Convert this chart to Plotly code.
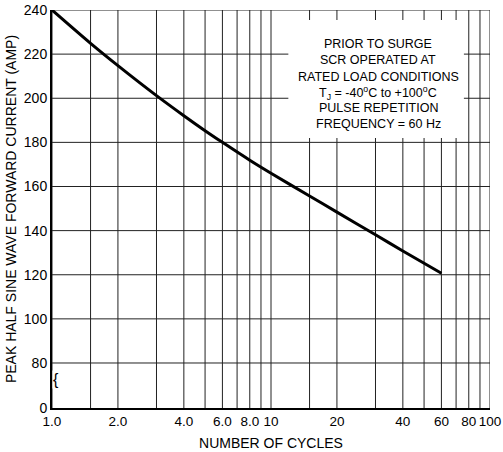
import plotly.graph_objects as go

cycles = [1, 1.5, 2, 3, 4, 5, 6, 8, 10, 15, 20, 30, 40, 60]
current = [240, 224.9, 214.8, 201.2, 192.1, 185.3, 180.0, 171.9, 166.0, 155.7, 148.4, 138.1, 130.8, 120.7]

y_tickvals = [59.6, 80, 100, 120, 140, 160, 180, 200, 220, 240]
y_ticktext = ["0", "80", "100", "120", "140", "160", "180", "200", "220", "240"]
x_gridvals = [1, 1.5, 2, 3, 4, 5, 6, 7, 8, 9, 10, 15, 20, 30, 40, 50, 60, 70, 80, 90, 100]
x_tickvals = [1, 2, 4, 6, 8, 10, 20, 40, 60, 80, 100]
x_ticktext = ["1.0", "2.0", "4.0", "6.0", "8.0", "10", "20", "40", "60", "80", "100"]

note_lines = ["PRIOR TO SURGE", "SCR OPERATED AT", "RATED LOAD CONDITIONS",
              "T<sub>J</sub> = -40<sup>o</sup>C to +100<sup>o</sup>C",
              "PULSE REPETITION", "FREQUENCY = 60 Hz"]
note_y = [224.8, 217.3, 209.8, 202.5, 195.4, 188.2]

FONT = "Liberation Sans, Arial, sans-serif"

fig = go.Figure()

# grid lines
for v in x_gridvals:
    fig.add_shape(type="line", xref="x", yref="paper", x0=v, x1=v, y0=0, y1=1,
                  line=dict(color="#222", width=1), layer="below")
for v in y_tickvals[1:]:
    fig.add_shape(type="line", xref="paper", yref="y", x0=0, x1=1, y0=v, y1=v,
                  line=dict(color="#222", width=1), layer="below")

fig.add_trace(go.Scatter(x=cycles, y=current, mode="lines",
                         line=dict(color="black", width=3, shape="spline", smoothing=0.8),
                         showlegend=False, hoverinfo="skip"))

# white box behind the note
fig.add_shape(type="rect", xref="x", yref="y", x0=12.0, x1=76, y0=182, y1=235.5,
              fillcolor="white", line=dict(width=0), layer="above")

for txt, yv in zip(note_lines, note_y):
    fig.add_annotation(xref="x", yref="y", x=1.4886, y=yv, showarrow=False,
                       text=txt, align="center",
                       font=dict(family=FONT, size=12.5, color="black"))

# axis break mark
fig.add_annotation(xref="paper", yref="y", x=0, y=72.3, showarrow=False,
                   text="{", font=dict(family=FONT, size=16, color="black"),
                   bgcolor="white", borderpad=0)

fig.update_xaxes(type="log", range=[0, 2], tickvals=x_tickvals, ticktext=x_ticktext,
                 tickangle=0, automargin=False,
                 showgrid=False, showline=True, linecolor="black", linewidth=2,
                 ticks="", zeroline=False,
                 tickfont=dict(family=FONT, size=13.5, color="black"),
                 title=dict(text="NUMBER OF CYCLES", standoff=10,
                            font=dict(family=FONT, size=14, color="black")))
fig.update_yaxes(range=[59.6, 240], tickvals=y_tickvals, ticktext=y_ticktext,
                 automargin=False,
                 showgrid=False, showline=True, linecolor="black", linewidth=2,
                 ticks="", zeroline=False,
                 tickfont=dict(family=FONT, size=14, color="black"),
                 title=dict(text="PEAK HALF SINE WAVE FORWARD CURRENT (AMP)", standoff=4,
                            font=dict(family=FONT, size=14, color="black")))

fig.update_layout(width=503, height=452, margin=dict(l=52, r=13, t=10, b=44),
                  plot_bgcolor="white", paper_bgcolor="white",
                  font=dict(family=FONT, color="black"))

fig.write_html("out.html")
